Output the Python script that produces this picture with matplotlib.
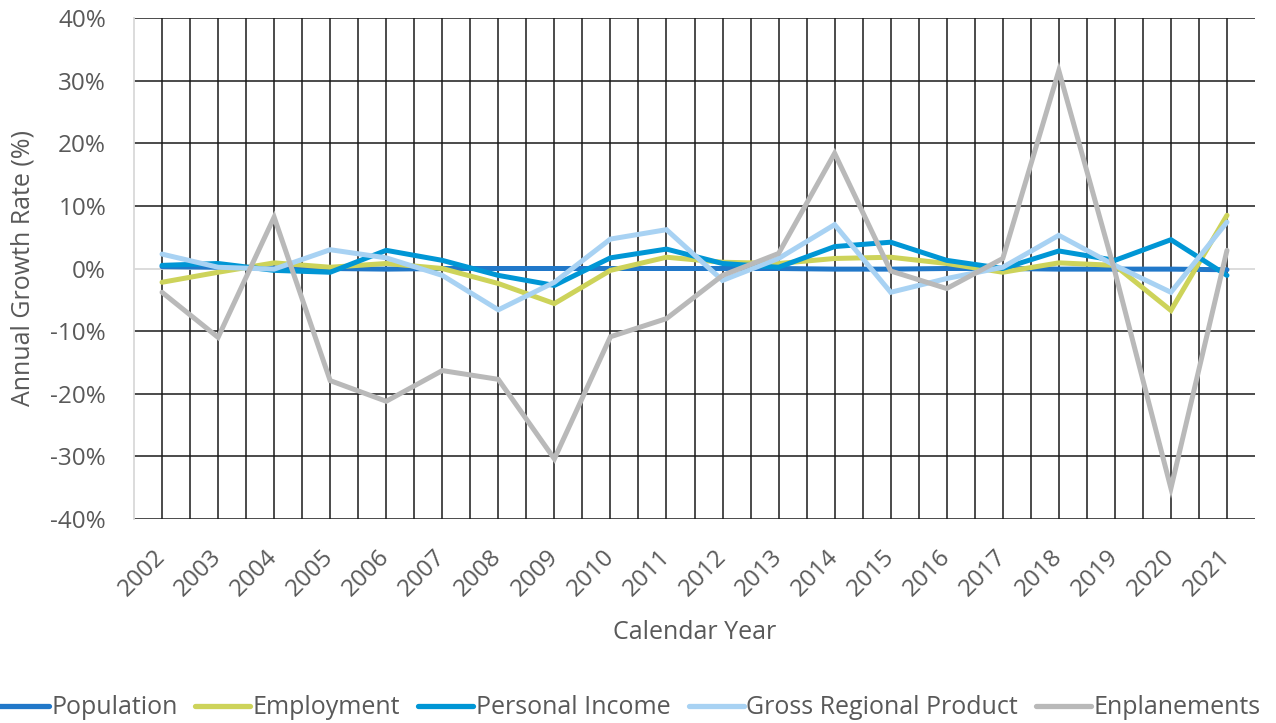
import matplotlib
matplotlib.use("Agg")
import matplotlib.pyplot as plt
from matplotlib.ticker import FixedLocator, PercentFormatter

years = [str(y) for y in range(2002, 2022)]
population = [0.3, 0.2, 0.1, 0.0, -0.1, 0.0, 0.0, 0.0, 0.0, 0.0, 0.0, 0.0, -0.1, -0.1, 0.0, 0.0, -0.1, -0.1, -0.1, -0.2]
employment = [-2.2, -0.6, 0.9, 0.2, 0.8, 0.0, -2.4, -5.6, -0.3, 1.8, 1.0, 0.8, 1.6, 1.8, 0.8, -0.6, 0.9, 0.5, -6.7, 8.5]
personal_income = [0.5, 0.8, -0.3, -0.6, 2.9, 1.3, -1.1, -2.7, 1.7, 3.1, 0.8, 0.2, 3.5, 4.2, 1.3, 0.0, 2.8, 1.3, 4.6, -1.1]
grp = [2.3, 0.2, -0.1, 3.0, 1.7, -1.1, -6.6, -2.2, 4.7, 6.2, -1.9, 1.6, 7.0, -3.8, -1.6, 0.2, 5.3, 0.5, -3.8, 7.4]
enplanements = [-3.8, -11.0, 8.2, -17.9, -21.2, -16.3, -17.7, -30.4, -10.9, -8.0, -1.1, 2.4, 18.4, -0.4, -3.2, 1.6, 31.6, -0.5, -35.1, 2.9]

series = [
    ("Population", population, "#2178C9"),
    ("Employment", employment, "#CDD35A"),
    ("Personal Income", personal_income, "#0096D5"),
    ("Gross Regional Product", grp, "#A8D2F3"),
    ("Enplanements", enplanements, "#B9B9B9"),
]

plt.rcParams['font.family'] = ['Open Sans', 'DejaVu Sans']
plt.rcParams['axes.unicode_minus'] = False
text_color = "#595959"

fig = plt.figure(figsize=(12.76, 7.23), dpi=100)
ax = fig.add_axes([134/1276, 1-519/723, (1255-134)/1276, (519-18)/723])

x = list(range(len(years)))
for name, vals, col in series:
    ax.plot(x, vals, color=col, lw=3.6, label=name, solid_capstyle='round',
            solid_joinstyle='miter', zorder=3)

ax.set_xlim(-0.5, len(years) - 0.5)
ax.set_ylim(-40, 40)
ax.yaxis.set_major_locator(FixedLocator(list(range(-40, 41, 10))))
ax.yaxis.set_major_formatter(PercentFormatter(decimals=0))
ax.set_xticks(x)
ax.set_xticklabels(years, rotation=45, ha='right', va='center', rotation_mode='anchor')

# gridlines
for v in range(-40, 41, 10):
    if v != 0:
        ax.axhline(v, color='#1a1a1a', lw=1.1, zorder=1)
for i in range(1, 2 * len(years)):
    ax.axvline(-0.5 + i * 0.5, color='#1a1a1a', lw=1.1, zorder=1)
ax.axhline(0, color='#d9d9d9', lw=1.3, zorder=2)

for s in ['top', 'right', 'bottom']:
    ax.spines[s].set_visible(False)
ax.spines['left'].set_color('#d9d9d9')
ax.spines['left'].set_linewidth(1.3)

ax.tick_params(axis='both', length=0, labelsize=17.5, colors=text_color)
ax.tick_params(axis='x', pad=25)
ax.tick_params(axis='y', pad=20)

ax.set_xlabel("Calendar Year", fontsize=18, color=text_color)
ax.xaxis.set_label_coords(0.5, (519 - 620) / 501)
ax.set_ylabel("Annual Growth Rate (%)", fontsize=18, color=text_color)
ax.yaxis.set_label_coords((36 - 134) / 1121, 0.5)

leg = fig.legend(loc='center', bbox_to_anchor=(627/1276, 1-708/723), ncol=5, frameon=False,
                 fontsize=18, handlelength=2.2, handletextpad=0.1, columnspacing=0.72,
                 labelcolor=text_color)
for h in leg.legend_handles:
    h.set_linewidth(3.8)

fig.savefig("out.png", dpi=100)
